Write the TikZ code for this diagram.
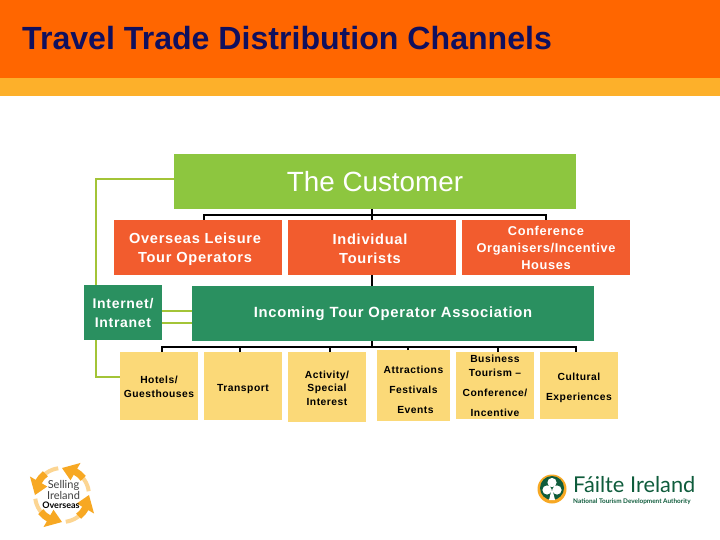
\documentclass[tikz,border=0pt]{standalone}
\usepackage{fontspec}
\setmainfont{Liberation Sans}
\newfontfamily\spaced[LetterSpace=5]{Liberation Sans}
\newfontfamily\logofont{Lato}
\definecolor{headorange}{HTML}{FF6600}
\definecolor{headband}{HTML}{FDB02A}
\definecolor{titleblue}{HTML}{10105E}
\definecolor{custgreen}{HTML}{8DC63F}
\definecolor{chanorange}{HTML}{F25C2E}
\definecolor{assocgreen}{HTML}{2A9060}
\definecolor{suppyellow}{HTML}{FBD978}
\definecolor{linkgreen}{HTML}{A3C437}
\definecolor{logogreen}{HTML}{0F5C3C}
\definecolor{logoamber}{HTML}{F7A823}
\definecolor{logopale}{HTML}{FCD592}
\newcommand{\moved}[3]{\kern#1\raisebox{-#2}[\height][\depth]{\begin{tabular}{@{}c@{}}#3\end{tabular}}\kern-#1}

\begin{document}
\begin{tikzpicture}[
        x=1pt, y=-1pt,
        box/.style={inner sep=0pt, outer sep=0pt, align=center},
        custbox/.style={box, fill=custgreen, text=white, font=\fontsize{27.8}{30}\selectfont},
        chanbox/.style={box, fill=chanorange, text=white, font=\spaced\bfseries\fontsize{14.6}{19}\selectfont},
        assocbox/.style={box, fill=assocgreen, text=white, font=\spaced\bfseries\fontsize{14.8}{19}\selectfont},
        suppbox/.style={box, fill=suppyellow, text=black, font=\spaced\bfseries\fontsize{10.3}{13.5}\selectfont},
        tree/.style={draw=black, line width=2pt},
        link/.style={draw=linkgreen, line width=2pt}
    ]
        \useasboundingbox (0,0) rectangle (720,540);
        \fill[white] (0,0) rectangle (720,540);
        \fill[headorange] (0,0) rectangle (720,78);
        \fill[headband] (0,78) rectangle (720,96);
        \node[anchor=west, inner sep=0pt, text=titleblue, font=\bfseries\fontsize{32.1}{35}\selectfont] (title) at (22,38) {Travel Trade Distribution Channels};

        \node[custbox, minimum width=402, minimum height=55] (cust) at (375,181.5) {The Customer};
        \node[chanbox, minimum width=168, minimum height=55] (over) at (198,247.5) {\moved{-3pt}{2pt}{Overseas Leisure\\Tour Operators}};
        \node[chanbox, minimum width=168, minimum height=55] (ind)  at (372,247.5) {\moved{-2pt}{3pt}{Individual\\Tourists}};
        \node[chanbox, minimum width=168, minimum height=55, font=\spaced\bfseries\fontsize{12.8}{17}\selectfont] (conf) at (546,247.5) {Conference\\Organisers/Incentive\\Houses};
        \node[assocbox, minimum width=78, minimum height=55, font=\spaced\bfseries\fontsize{14}{19}\selectfont] (int)  at (123,312.5) {Internet/\\Intranet};
        \node[assocbox, minimum width=402, minimum height=55] (inc)  at (393,313.5) {Incoming Tour Operator Association};

        \node[suppbox, minimum width=78, minimum height=68] (hotels) at (159,386)   {\moved{0pt}{2pt}{Hotels/\\Guesthouses}};
        \node[suppbox, minimum width=78, minimum height=68] (trans)  at (243,386)   {\moved{0pt}{3pt}{Transport}};
        \node[suppbox, minimum width=78, minimum height=70] (act)    at (327,387)   {\moved{0pt}{2pt}{Activity/\\Special\\Interest}};
        \node[suppbox, minimum width=73, minimum height=71] (attr)   at (413.5,385.5) {\moved{0pt}{5pt}{Attractions\\[6.5pt]Festivals\\[6.5pt]\hspace*{4pt}Events}};
        \node[suppbox, minimum width=78, minimum height=66] (bus)    at (495,385)   {\moved{0pt}{2pt}{Business\\Tourism –\\[6.5pt]Conference/\\[6.5pt]Incentive}};
        \node[suppbox, minimum width=78, minimum height=67] (cult)   at (579,385.5) {\moved{0pt}{2pt}{Cultural\\[6.5pt]Experiences}};

        \draw[tree] (cust.south -| ind.north) -- (ind.north);
        \draw[tree] ([xshift=6pt]over.north) -- ++(0,-5) -| (conf.north);
        \draw[tree] (ind.south) -- (ind.south |- inc.north);
        \draw[tree] (ind.south |- inc.south) -- ++(0,6);
        \draw[tree] ([xshift=3pt]hotels.north) -- ++(0,-5) -| ([xshift=-3pt]cult.north);
        \draw[tree] ([xshift=-3pt]trans.north) -- ++(0,-5);
        \draw[tree] ([xshift=3pt]act.north) -- ++(0,-5);
        \draw[tree] ([xshift=-5.5pt]attr.north) -- ++(0,-3);
        \draw[tree] ([xshift=3pt]bus.north) -- ++(0,-5);

        \draw[link] ([yshift=2.8pt]cust.west) -| ([xshift=-27pt]int.north);
        \draw[link] ([xshift=-27pt]int.south) |- ([yshift=9.3pt]hotels.west);
        \draw[link] ([yshift=1.8pt]int.east) -- ([yshift=1.8pt]int.east -| inc.west);
        \draw[link] ([yshift=-10.2pt]int.east) -- ([yshift=-10.2pt]int.east -| inc.west);

        % selling ireland logo
        \foreach \ang in {90,180,270,360} {
            \begin{scope}[shift={(62,495)}, y=1pt, rotate=\ang-90]
                \draw[logopale, line width=4pt] (8:27) arc[start angle=8, end angle=62, radius=27];
                \draw[logoamber, line width=7pt] (38:27) arc[start angle=38, end angle=62, radius=27];
                \fill[logoamber] (90:27) -- (60:37) -- (60:17) -- cycle;
            \end{scope}
        }
        \node[box, text=black!75, font=\logofont\fontsize{11}{11}\selectfont] (selling) at (63.5,489.5) {Selling\\Ireland};
        \node[box, text=black, font=\logofont\bfseries\fontsize{9}{10}\selectfont] (overseas) at (61,505) {Overseas};

        % failte ireland logo
        \fill[logoamber] (552,489) circle (14.5);
        \fill[logogreen] (552,488) circle (12);
        \fill[white] (552,482.5) circle (4.6) (547,490) circle (4.6) (557,490) circle (4.6);
        \fill[white] (552,488) -- (549,500) -- (555,500) -- cycle;
        \node[anchor=west, inner sep=0pt, text=logogreen, font=\logofont\fontsize{21.8}{22}\selectfont] (failte) at (573,485) {Fáilte Ireland};
        \node[anchor=west, inner sep=0pt, text=logogreen, font=\logofont\bfseries\fontsize{6.4}{7}\selectfont] (nat) at (573,502) {National Tourism Development Authority};
    \end{tikzpicture}
\end{document}
